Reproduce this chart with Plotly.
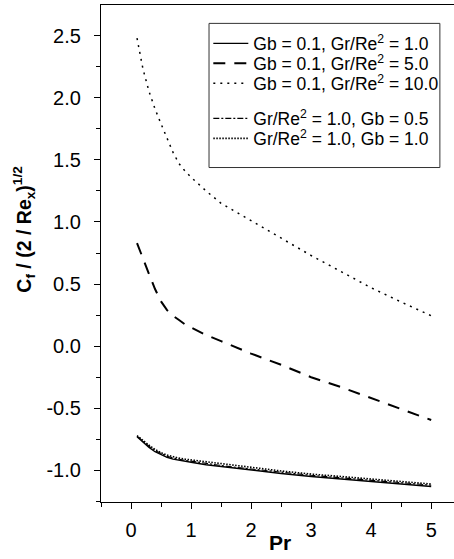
import plotly.graph_objects as go

pr = [0.1, 0.2, 0.3, 0.4, 0.5, 0.6, 0.7, 0.8, 0.9, 1.0, 1.25, 1.5, 1.75, 2.0, 2.5, 3.0, 3.5, 4.0, 4.5, 5.0]

cf_gb01_gr1 = [-0.73, -0.775, -0.815, -0.85, -0.875, -0.895, -0.91, -0.92, -0.93, -0.935, -0.955, -0.97, -0.985, -1.0, -1.025, -1.05, -1.07, -1.09, -1.11, -1.13]
cf_gb01_gr5 = [0.83, 0.70, 0.58, 0.46, 0.36, 0.29, 0.245, 0.21, 0.175, 0.15, 0.09, 0.04, -0.01, -0.06, -0.15, -0.25, -0.33, -0.42, -0.51, -0.595]
cf_gb01_gr10 = [2.48, 2.23, 2.05, 1.91, 1.79, 1.67, 1.56, 1.47, 1.41, 1.36, 1.25, 1.15, 1.08, 1.01, 0.865, 0.73, 0.60, 0.47, 0.355, 0.245]
cf_gr1_gb05 = [-0.725, -0.767, -0.806, -0.84, -0.866, -0.886, -0.9, -0.911, -0.92, -0.926, -0.946, -0.961, -0.976, -0.99, -1.015, -1.04, -1.06, -1.08, -1.1, -1.12]
cf_gr1_gb10 = [-0.72, -0.76, -0.798, -0.832, -0.858, -0.877, -0.892, -0.902, -0.91, -0.916, -0.936, -0.951, -0.966, -0.98, -1.005, -1.03, -1.05, -1.07, -1.09, -1.11]

x_ticks = [0, 1, 2, 3, 4, 5]
y_ticks = [-1.0, -0.5, 0.0, 0.5, 1.0, 1.5, 2.0, 2.5]
y_tick_labels = ["-1.0", "-0.5", "0.0", "0.5", "1.0", "1.5", "2.0", "2.5"]

names = [
    "Gb = 0.1, Gr/Re<sup>2</sup> = 1.0",
    "Gb = 0.1, Gr/Re<sup>2</sup> = 5.0",
    "Gb = 0.1, Gr/Re<sup>2</sup> = 10.0",
    "Gr/Re<sup>2</sup> = 1.0, Gb = 0.5",
    "Gr/Re<sup>2</sup> = 1.0, Gb = 1.0",
]
series = [cf_gb01_gr1, cf_gb01_gr5, cf_gb01_gr10, cf_gr1_gb05, cf_gr1_gb10]
styles = [
    dict(width=1.4, dash="solid"),
    dict(width=2.0, dash="12px,9px"),
    dict(width=1.5, dash="2px,5px"),
    dict(width=1.1, dash="6px,2px,2px,2px"),
    dict(width=1.6, dash="1.5px,1.5px"),
]
legend_ids = ["legend", "legend2", "legend3", "legend4", "legend5"]
legend_rows = [0.9225, 0.8823, 0.8421, 0.7716, 0.7314]

font = "Liberation Sans, Arial, sans-serif"

fig = go.Figure()
for name, y, st, lg in zip(names, series, styles, legend_ids):
    fig.add_trace(go.Scatter(
        x=pr, y=y, mode="lines", name=name, legend=lg,
        line=dict(color="black", width=st["width"], dash=st["dash"]),
    ))

legend_layout = {}
for lg, ly in zip(legend_ids, legend_rows):
    legend_layout[lg] = dict(
        x=0.304, y=ly, xanchor="left", yanchor="middle",
        bgcolor="rgba(0,0,0,0)", borderwidth=0,
        font=dict(size=17.5, family=font, color="black"),
        itemwidth=35,
    )

fig.update_layout(
    width=454, height=559,
    margin=dict(l=101, r=0, t=5, b=57),
    paper_bgcolor="white", plot_bgcolor="white",
    font=dict(family=font, color="black", size=18),
    showlegend=True,
    shapes=[dict(type="rect", xref="paper", yref="paper",
                 x0=0.306, x1=0.960, y0=0.673, y1=0.963,
                 line=dict(color="#333", width=1), fillcolor="rgba(0,0,0,0)")],
    annotations=[
        dict(text="<b>Pr</b>", xref="paper", yref="paper", x=0.507, y=-0.081,
             xanchor="center", yanchor="middle", showarrow=False,
             font=dict(size=21, family=font, color="black")),
        dict(text="<b>C<sub>f</sub> / (2 / Re<sub>x</sub>)<sup>1/2</sup></b>",
             xref="paper", yref="paper", x=-0.218, y=0.548, textangle=-90,
             xanchor="center", yanchor="middle", showarrow=False,
             font=dict(size=19.5, family=font, color="black")),
    ],
    **legend_layout,
)
fig.update_xaxes(
    range=[-0.5, 5.38], showgrid=False, zeroline=False,
    showline=True, linecolor="black", linewidth=1.3, mirror=True,
    ticks="outside", ticklen=6, tickwidth=1.2, tickcolor="black",
    tickvals=x_ticks, ticktext=[str(v) for v in x_ticks],
    tickfont=dict(size=20), ticklabelstandoff=4,
    minor=dict(ticks="outside", ticklen=4, tickwidth=1.2, tickcolor="black", dtick=0.5, tick0=0),
)
fig.update_yaxes(
    range=[-1.255, 2.747], showgrid=False, zeroline=False,
    showline=True, linecolor="black", linewidth=1.3, mirror=False,
    ticks="outside", ticklen=6, tickwidth=1.2, tickcolor="black",
    tickvals=y_ticks, ticktext=y_tick_labels,
    tickfont=dict(size=20), ticklabelstandoff=9,
    minor=dict(ticks="outside", ticklen=4, tickwidth=1.2, tickcolor="black", dtick=0.25, tick0=0),
)

fig.write_html("out.html", config={"displayModeBar": False},
               post_script="document.body.style.margin='0px';")
